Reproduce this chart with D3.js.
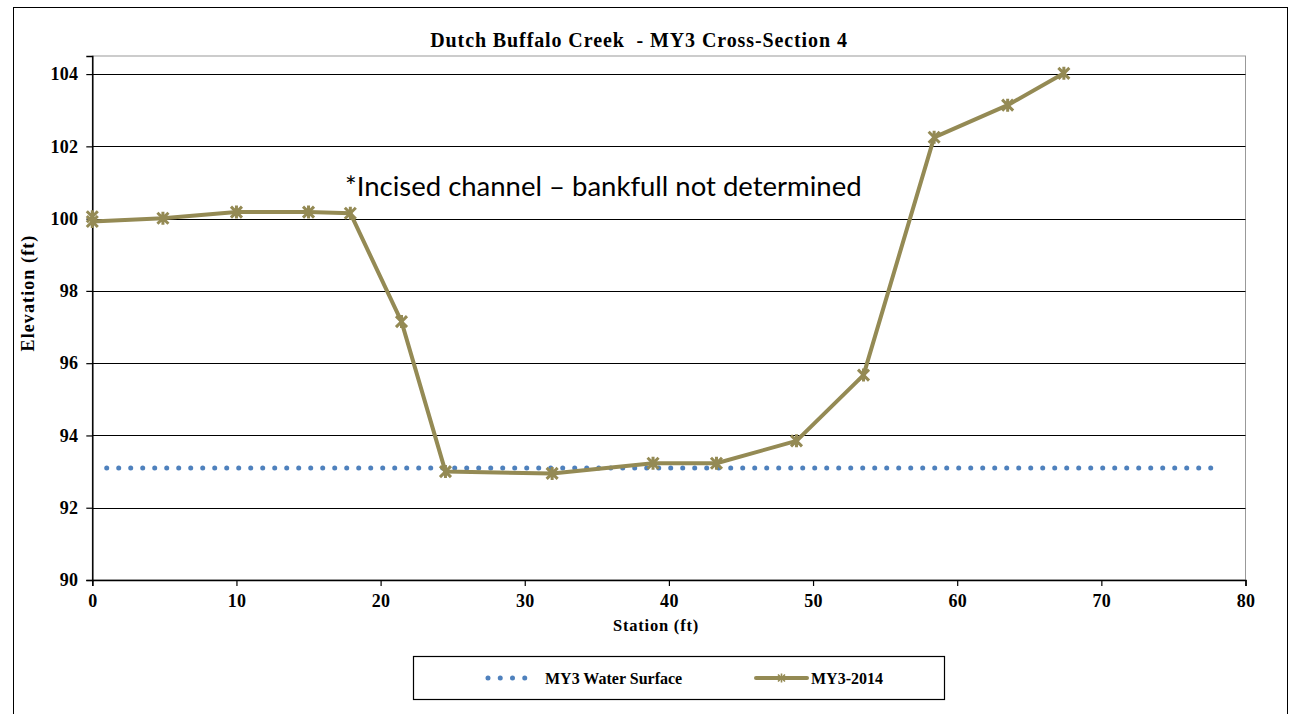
<!DOCTYPE html>
<html><head><meta charset="utf-8">
<script src="https://cdn.jsdelivr.net/npm/d3@7/dist/d3.min.js"></script>
<style>
body{margin:0;background:#fff;}
svg{display:block;}
</style></head><body>
<svg id="c" width="1293" height="714"></svg>
<script>
// ---- data ----
const surveyStation = [0, 0, 4.9, 10.0, 15.0, 17.9, 21.45, 24.5, 31.9, 38.9, 43.3, 48.85, 53.5, 58.4, 63.5, 67.4];
const surveyElev    = [100.05, 99.92, 100.01, 100.18, 100.18, 100.15, 97.15, 93.0, 92.95, 93.23, 93.23, 93.85, 95.67, 102.25, 103.14, 104.02];
const waterStation  = [1, 77.8];
const waterElev     = [93.1, 93.1];
const xTicks = [0, 10, 20, 30, 40, 50, 60, 70, 80];
const yTicks = [90, 92, 94, 96, 98, 100, 102, 104];
const seriesNames = ["MY3 Water Surface", "MY3-2014"];
const titleText = "Dutch Buffalo Creek  - MY3 Cross-Section 4";
const noteText = "*Incised channel \u2013 bankfull not determined";

const SERIF = "'Liberation Serif', 'Times New Roman', 'DejaVu Serif', serif";
const olive = "#948A54", blue = "#4F81BD";
const svg = d3.select("#c");
const L = 92.3, R = 1245.5, T = 56, B = 580;
const x = d3.scaleLinear().domain([0, 80]).range([L, R]);
const y = d3.scaleLinear().domain([90, 104.5]).range([B, T]);

function serifText(sel, size, ls) {
  return sel.attr("font-family", SERIF).attr("font-weight", "bold").attr("font-size", size)
    .attr("letter-spacing", ls || 0).attr("fill", "#000").style("white-space", "pre");
}

// outer border
svg.append("rect").attr("x", 13.5).attr("y", 7.5).attr("width", 1274).attr("height", 720)
  .attr("fill", "none").attr("stroke", "#000").attr("stroke-width", 1);

// plot border (gray)
svg.append("rect").attr("x", L).attr("y", T).attr("width", R - L).attr("height", B - T)
  .attr("fill", "none").attr("stroke", "#999").attr("stroke-width", 1);

// gridlines
svg.append("g").selectAll("line").data(yTicks.filter(d => d > 90)).join("line")
  .attr("x1", L).attr("x2", R).attr("y1", d => Math.round(y(d)) + 0.5).attr("y2", d => Math.round(y(d)) + 0.5)
  .attr("stroke", "#000").attr("stroke-width", 1.2);

// axes
const yAxis = svg.append("g").attr("transform", `translate(${L},0)`)
  .call(d3.axisLeft(y).tickValues(yTicks).tickSize(6).tickPadding(8).tickFormat(d3.format("d")));
const xAxis = svg.append("g").attr("transform", `translate(0,${B})`)
  .call(d3.axisBottom(x).tickValues(xTicks).tickSize(6).tickPadding(8).tickFormat(d3.format("d")));
[yAxis, xAxis].forEach(a => {
  a.attr("font-family", null).attr("font-size", null);
  a.select(".domain").attr("stroke", "#000").attr("stroke-width", 1.5);
  a.selectAll(".tick line").attr("stroke", "#000").attr("stroke-width", 1.2);
  serifText(a.selectAll("text"), 18, 0.3);
});

// water surface
const wData = waterStation.map((s, i) => [s, waterElev[i]]);
svg.append("path").datum(wData)
  .attr("d", d3.line().x(d => x(d[0])).y(d => y(d[1])))
  .attr("stroke", blue).attr("stroke-width", 5).attr("stroke-linecap", "round")
  .attr("stroke-dasharray", "0 12").attr("fill", "none");

// survey line
const sData = surveyStation.map((s, i) => [s, surveyElev[i]]);
svg.append("path").datum(sData)
  .attr("d", d3.line().x(d => x(d[0])).y(d => y(d[1])))
  .attr("stroke", olive).attr("stroke-width", 4).attr("stroke-linejoin", "round").attr("fill", "none");

function star(g, cx, cy, r, w) {
  const p = `M${cx - r},${cy - r}L${cx + r},${cy + r}M${cx - r},${cy + r}L${cx + r},${cy - r}M${cx},${cy - r - 1}L${cx},${cy + r + 1}`;
  g.append("path").attr("d", p).attr("stroke", olive).attr("stroke-width", w).attr("fill", "none");
}
const mg = svg.append("g");
sData.forEach(d => star(mg, x(d[0]), y(d[1]), 5.5, 3));

// title
serifText(svg.append("text").attr("x", 639).attr("y", 47).attr("text-anchor", "middle"), 20, 0.9).text(titleText);

// annotation
svg.append("text").attr("x", 345).attr("y", 196).attr("font-family", "Lato, 'Open Sans', sans-serif")
  .attr("font-size", 27.5).attr("fill", "#000").text(noteText);

// axis titles
serifText(svg.append("text").attr("transform", "translate(34,293) rotate(-90)").attr("text-anchor", "middle"), 18, 1.1)
  .text("Elevation (ft)");
serifText(svg.append("text").attr("x", 656).attr("y", 631).attr("text-anchor", "middle"), 16.5, 0.8)
  .text("Station (ft)");

// legend
svg.append("rect").attr("x", 413.5).attr("y", 656.5).attr("width", 531).attr("height", 43)
  .attr("fill", "#fff").attr("stroke", "#000").attr("stroke-width", 1.2);
const ly = 678;
svg.append("line").attr("x1", 488).attr("x2", 537).attr("y1", ly).attr("y2", ly)
  .attr("stroke", blue).attr("stroke-width", 5).attr("stroke-linecap", "round").attr("stroke-dasharray", "0 12.25");
serifText(svg.append("text").attr("x", 545).attr("y", ly + 5.5), 16, 0).text(seriesNames[0]);
svg.append("line").attr("x1", 756).attr("x2", 807).attr("y1", ly).attr("y2", ly)
  .attr("stroke", olive).attr("stroke-width", 4).attr("stroke-linecap", "round");
star(svg, 781.5, ly, 3.5, 1.6);
serifText(svg.append("text").attr("x", 811).attr("y", ly + 5.5), 16, 0).text(seriesNames[1]);
</script>
</body></html>
